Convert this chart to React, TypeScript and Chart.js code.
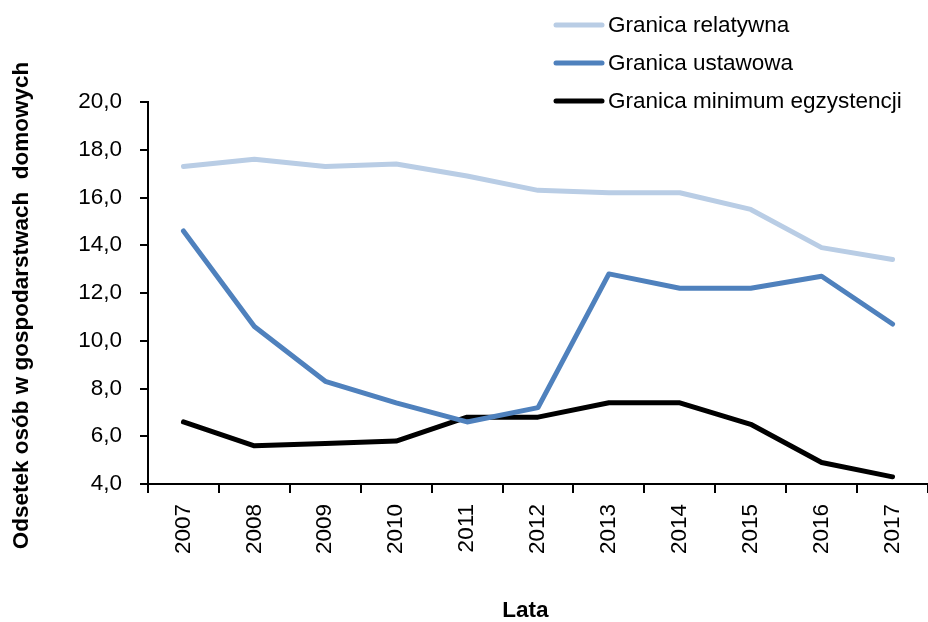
import React, { useEffect, useRef } from "react";
import { Chart, registerables } from "chart.js";

Chart.register(...registerables);

const years = ["2007", "2008", "2009", "2010", "2011", "2012", "2013", "2014", "2015", "2016", "2017"];
const relatywna = [17.3, 17.6, 17.3, 17.4, 16.9, 16.3, 16.2, 16.2, 15.5, 13.9, 13.4];
const ustawowa = [14.6, 10.6, 8.3, 7.4, 6.6, 7.2, 12.8, 12.2, 12.2, 12.7, 10.7];
const minimum = [6.6, 5.6, 5.7, 5.8, 6.8, 6.8, 7.4, 7.4, 6.5, 4.9, 4.3];
const seriesNames = ["Granica relatywna", "Granica ustawowa", "Granica minimum egzystencji"];
const seriesColors = ["#B9CDE5", "#4F81BD", "#000000"];
const yTitle = "Odsetek osób w gospodarstwach  domowych";
const xTitle = "Lata";

const FONT = "'Liberation Sans', Arial, sans-serif";
const FS = 22.5;

const legendPlugin = {
  id: "customLegend",
  afterDraw(chart: any) {
    const ctx = chart.ctx;
    ctx.save();
    ctx.font = `${FS}px ${FONT}`;
    ctx.textBaseline = "middle";
    ctx.textAlign = "left";
    chart.data.datasets.forEach((ds: any, i: number) => {
      const y = 25 + i * 38;
      ctx.strokeStyle = ds.borderColor;
      ctx.lineWidth = 5;
      ctx.lineCap = "round";
      ctx.beginPath();
      ctx.moveTo(556, y);
      ctx.lineTo(602, y);
      ctx.stroke();
      ctx.fillStyle = "#000";
      ctx.fillText(ds.label, 608, y + 1);
    });
    ctx.restore();
  },
};

export default function App() {
  const ref = useRef<HTMLCanvasElement>(null);
  useEffect(() => {
    if (!ref.current) return;
    const data = [relatywna, ustawowa, minimum];
    const chart = new Chart(ref.current, {
      type: "line",
      data: {
        labels: years,
        datasets: data.map((d, i) => ({
          label: seriesNames[i],
          data: d,
          borderColor: seriesColors[i],
          backgroundColor: seriesColors[i],
          borderWidth: 5,
          pointRadius: 0,
          tension: 0,
          borderJoinStyle: "round" as const,
          borderCapStyle: "round" as const,
        })),
      },
      options: {
        animation: false,
        responsive: false,
        layout: { padding: { top: 102, right: 0, left: 0, bottom: 0 } },
        plugins: { legend: { display: false }, tooltip: { enabled: false } },
        scales: {
          x: {
            offset: true,
            afterFit: (s: any) => { s.height = 138; s.paddingRight = 0; s.paddingLeft = 0; },
            grid: { offset: true, drawOnChartArea: false, tickLength: 9, color: "#000", lineWidth: 2 },
            border: { color: "#000", width: 2 },
            ticks: { color: "#000", font: { family: FONT, size: FS }, maxRotation: 90, minRotation: 90, padding: 11 },
            title: { display: true, text: xTitle + "    ", color: "#000", font: { family: FONT, size: FS, weight: "bold" }, padding: { top: 0, bottom: -2.5 } },
          },
          y: {
            min: 4,
            max: 20,
            afterFit: (s: any) => { s.width = 148; },
            grid: { drawOnChartArea: false, tickLength: 8, color: "#000", lineWidth: 2 },
            border: { color: "#000", width: 2 },
            ticks: {
              stepSize: 2,
              color: "#000",
              padding: 18,
              font: { family: FONT, size: FS },
              callback: (v: any) => Number(v).toFixed(1).replace(".", ","),
            },
            title: { display: true, text: yTitle + "    ", color: "#000", font: { family: FONT, size: FS, weight: "bold" }, padding: { top: 8.5, bottom: 0 } },
          },
        },
      },
      plugins: [legendPlugin],
    });
    return () => chart.destroy();
  }, []);
  return (
    <div style={{ position: "absolute", left: 0, top: 0, width: 928, height: 622 }}>
      <canvas ref={ref} width={928} height={622} style={{ width: 928, height: 622 }} />
    </div>
  );
}
